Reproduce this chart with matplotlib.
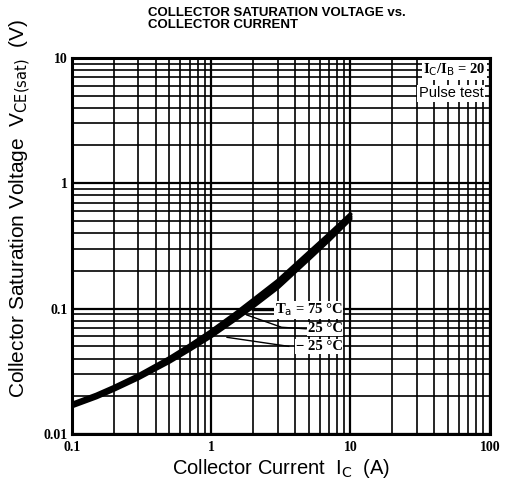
import numpy as np
import matplotlib
matplotlib.use('Agg')
import matplotlib.pyplot as plt
from matplotlib.ticker import LogLocator, FixedLocator, NullFormatter

# Collector current (A) and Vce(sat) (V)
ic = [0.1, 0.15, 0.2, 0.3, 0.5, 0.7, 1.0, 1.5, 2.0, 3.0, 5.0, 7.0, 10.0]
vce_25 = [0.0170, 0.0201, 0.0231, 0.0286, 0.0389, 0.0488, 0.0630, 0.0867, 0.110, 0.156, 0.262, 0.370, 0.540]
vce_75 = [0.0174, 0.0206, 0.0237, 0.0294, 0.0402, 0.0507, 0.0660, 0.0915, 0.117, 0.166, 0.278, 0.390, 0.565]
vce_m25 = [0.0166, 0.0196, 0.0225, 0.0278, 0.0376, 0.0470, 0.0602, 0.0825, 0.104, 0.147, 0.248, 0.352, 0.520]

x_ticks = [0.1, 1, 10, 100]
x_labels = ['0.1', '1', '10', '100']
y_ticks = [0.01, 0.1, 1, 10]
y_labels = ['0.01', '0.1', '1', '10']

fig = plt.figure(figsize=(5.06, 4.86), dpi=100)
ax = fig.add_axes([0.142, 0.107, 0.826, 0.774])
ax.set_xscale('log')
ax.set_yscale('log')
ax.set_xlim(0.1, 100)
ax.set_ylim(0.01, 10)

# dense graph-paper grid
ax.xaxis.set_major_locator(FixedLocator(x_ticks))
ax.yaxis.set_major_locator(FixedLocator(y_ticks))
ax.xaxis.set_minor_locator(LogLocator(base=10, subs=np.arange(2, 10)))
ax.yaxis.set_minor_locator(LogLocator(base=10, subs=np.arange(2, 10)))
ax.xaxis.set_minor_formatter(NullFormatter())
ax.yaxis.set_minor_formatter(NullFormatter())
ax.grid(which='major', color='black', lw=1.6)
ax.grid(which='minor', color='black', lw=1.2)
ax.tick_params(which='both', length=0)
for s in ax.spines.values():
    s.set_linewidth(2.2)

serif = 'Liberation Serif'
ax.set_xticks(x_ticks)
ax.set_xticklabels(x_labels, family=serif, weight='bold', fontsize=10)
ax.set_yticks(y_ticks)
ax.set_yticklabels(y_labels, family=serif, weight='bold', fontsize=10)
ax.tick_params(axis='x', pad=5)
ax.tick_params(axis='y', pad=3)

for v in (vce_75, vce_25, vce_m25):
    ax.plot(ic, v, color='black', lw=3, solid_capstyle='round', solid_joinstyle='round', zorder=3)

# curve labels with leader lines
lab_kw = dict(family=serif, weight='bold', fontsize=10.5, ha='right', va='center', zorder=5,
              bbox=dict(facecolor='white', edgecolor='none', pad=0.5))
ax.text(8.8, 0.098, 'T$_\\mathrm{a}$ = 75 °C', **lab_kw)
ax.text(8.8, 0.069, '25 °C', **lab_kw)
ax.text(8.8, 0.050, '\u2212 25 °C', **lab_kw)
ax.plot([1.95, 3.0], [0.098, 0.098], color='black', lw=1, zorder=4)
ax.plot([1.8, 3.2, 4.8], [0.089, 0.071, 0.069], color='black', lw=1, zorder=4)
ax.plot([1.3, 3.6], [0.059, 0.050], color='black', lw=1, zorder=4)

# condition box
ax.text(0.99, 0.99, 'I$_\\mathrm{C}$/I$_\\mathrm{B}$ = 20', transform=ax.transAxes, family=serif,
        weight='bold', fontsize=10.5, ha='right', va='top', zorder=5,
        bbox=dict(facecolor='white', edgecolor='none', pad=1))
ax.text(0.985, 0.925, 'Pulse test', transform=ax.transAxes, family='Liberation Sans',
        fontsize=10.5, ha='right', va='top', zorder=5,
        bbox=dict(facecolor='white', edgecolor='none', pad=1))

ax.set_xlabel('Collector Current  I$_\\mathrm{C}$  (A)', family='Liberation Sans', fontsize=14.5, labelpad=2)
ax.set_ylabel('Collector Saturation Voltage  V$_\\mathrm{CE(sat)}$  (V)', family='Liberation Sans',
              fontsize=15)
ax.yaxis.set_label_coords(-0.093, 0.6)

fig.text(0.292, 0.985, 'COLLECTOR SATURATION VOLTAGE vs.\nCOLLECTOR CURRENT', family='Liberation Sans',
         weight='bold', fontsize=9.5, ha='left', va='top', linespacing=1.0)

fig.savefig('out.png', dpi=100)
